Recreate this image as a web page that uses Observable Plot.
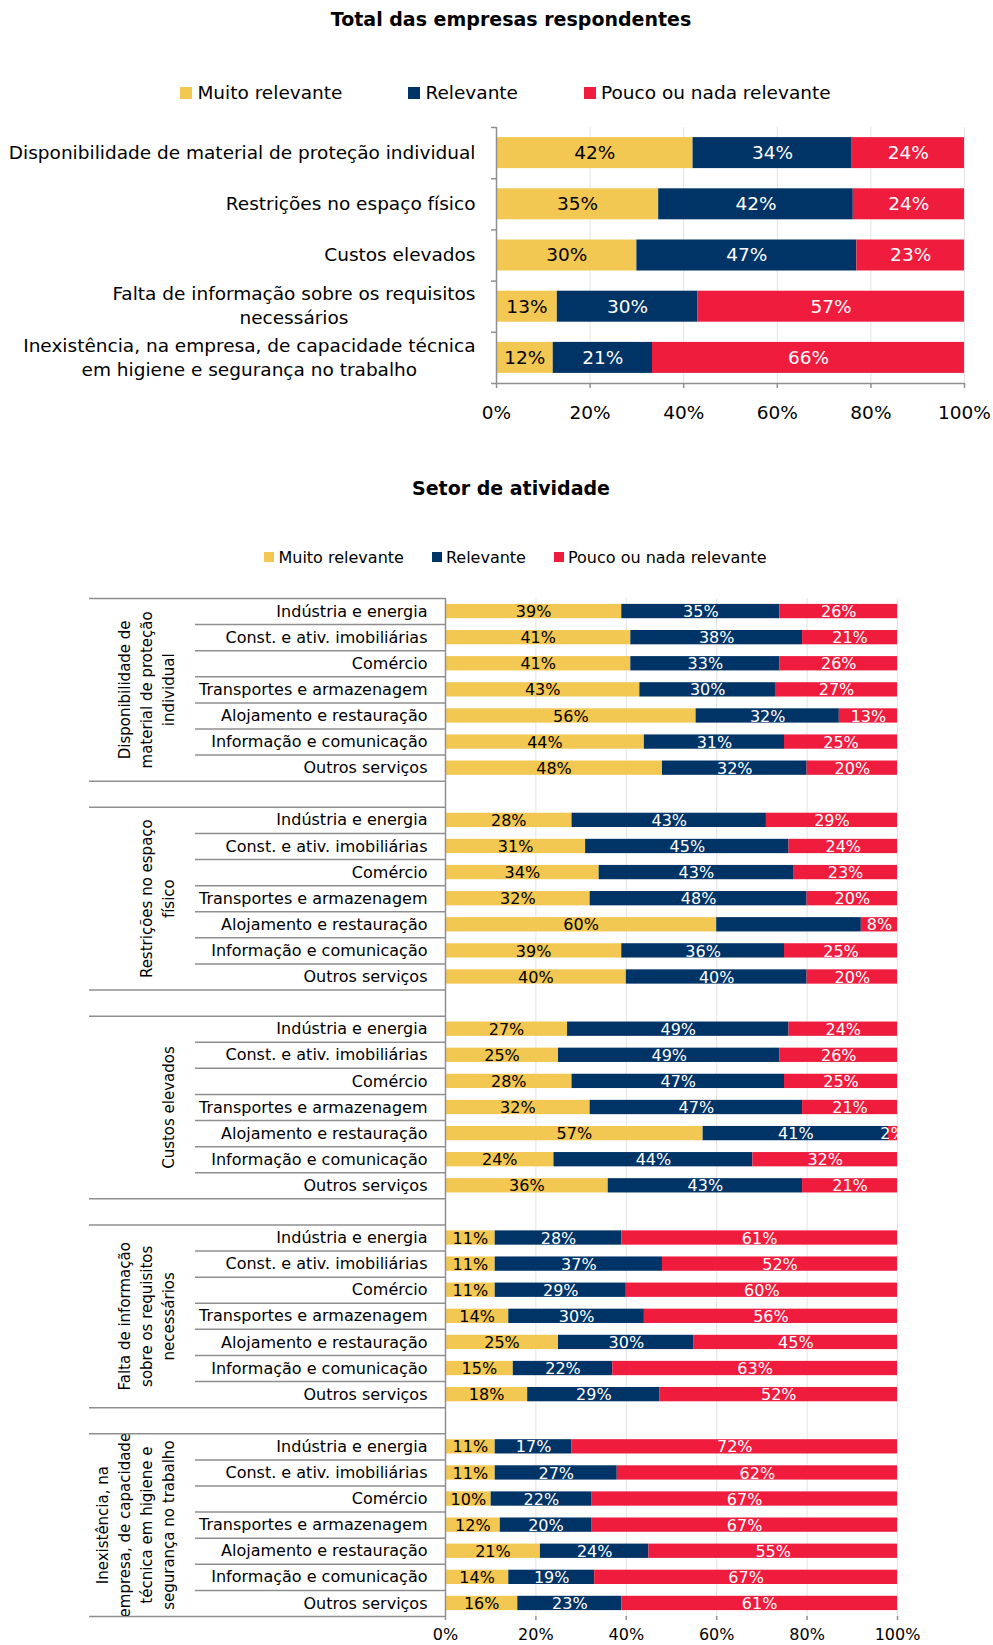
<!DOCTYPE html>
<html>
<head>
<meta charset="utf-8">
<script src="https://cdn.jsdelivr.net/npm/d3@7"></script>
<script src="https://cdn.jsdelivr.net/npm/@observablehq/plot@0.6"></script>
<style>
  html, body { margin: 0; padding: 0; background: #fff; }
  #root { position: relative; width: 993px; height: 1645px; overflow: hidden; font-family: "DejaVu Sans", Verdana, sans-serif; color: #000; }
  .abs { position: absolute; left: 0; width: 993px; }
  .title { text-align: center; font-weight: bold; font-size: 19px; height: 24px; line-height: 24px; box-sizing: border-box; }
  .legend { display: flex; justify-content: center; align-items: center; box-sizing: border-box; }
  .legend .item { display: flex; align-items: center; }
  .legend .sw { display: inline-block; }
</style>
</head>
<body>
<div id="root"></div>
<script>
// ---------------- DATA ----------------
const seriesNames = ["Muito relevante", "Relevante", "Pouco ou nada relevante"];
const seriesColors = ["#F2C752", "#003366", "#EF1C3E"];
const labelColors = ["#000000", "#ffffff", "#ffffff"];

// Top chart: total of responding companies
const totalTitle = "Total das empresas respondentes";
const factorLabelLines = [
  ["Disponibilidade de material de proteção individual"],
  ["Restrições no espaço físico"],
  ["Custos elevados"],
  ["Falta de informação sobre os requisitos", "necessários"],
  ["Inexistência, na empresa, de capacidade técnica", "em higiene e segurança no trabalho"]
];
const totalMuito = [42, 35, 30, 13, 12];
const totalRelevante = [34, 42, 47, 30, 21];
const totalPouco = [24, 24, 23, 57, 66];

// Bottom chart: by sector of activity
const sectorTitle = "Setor de atividade";
const groupLabelLines = [
  ["Disponibilidade de", "material de proteção", "individual"],
  ["Restrições no espaço", "físico"],
  ["Custos elevados"],
  ["Falta de informação", "sobre os requisitos", "necessários"],
  ["Inexistência, na", "empresa, de capacidade", "técnica em higiene e", "segurança no trabalho"]
];
const sectors = [
  "Indústria e energia",
  "Const. e ativ. imobiliárias",
  "Comércio",
  "Transportes e armazenagem",
  "Alojamento e restauração",
  "Informação e comunicação",
  "Outros serviços"
];
const sectorMuito = [
  [39, 41, 41, 43, 56, 44, 48],
  [28, 31, 34, 32, 60, 39, 40],
  [27, 25, 28, 32, 57, 24, 36],
  [11, 11, 11, 14, 25, 15, 18],
  [11, 11, 10, 12, 21, 14, 16]
];
const sectorRelevante = [
  [35, 38, 33, 30, 32, 31, 32],
  [43, 45, 43, 48, 32, 36, 40],
  [49, 49, 47, 47, 41, 44, 43],
  [28, 37, 29, 30, 30, 22, 29],
  [17, 27, 22, 20, 24, 19, 23]
];
const sectorPouco = [
  [26, 21, 26, 27, 13, 25, 20],
  [29, 24, 23, 20, 8, 25, 20],
  [24, 26, 25, 21, 2, 32, 21],
  [61, 52, 60, 56, 45, 63, 52],
  [72, 62, 67, 67, 55, 67, 61]
];
// labels not shown in the original [group, sector, series]
const hiddenLabels = [[1, 4, 1]];

const xTicks = [0, 0.2, 0.4, 0.6, 0.8, 1];

// ---------------- LAYOUT ----------------
const W = 993;
const FONT = '"DejaVu Sans", Verdana, sans-serif';
const GRID = "#e3e3e3";
const AXIS = "#8f8f8f";
const root = document.getElementById("root");

const ctx = document.createElement("canvas").getContext("2d");
function textWidth(str, size) { ctx.font = `${size}px "DejaVu Sans"`; return ctx.measureText(str).width; }

function addDiv(cls, top, html, style = "") {
  const d = document.createElement("div");
  d.className = "abs " + cls;
  d.style.cssText = `top:${top}px;` + style;
  d.innerHTML = html;
  root.appendChild(d);
  return d;
}
function addLegend(top, sw, fs, gap, padLeft) {
  const items = seriesNames.map((n, i) =>
    `<span class="item"><span class="sw" style="width:${sw}px;height:${sw}px;background:${seriesColors[i]};margin-right:${Math.round(sw/3)+1}px"></span><span style="font-size:${fs}px">${n}</span></span>`
  ).join("");
  addDiv("legend", top, items, `gap:${gap}px;padding-left:${padLeft}px;height:${fs*1.5}px;`);
}

function stackRows(a, b, c) {
  const vals = [a, b, c];
  const sum = d3.sum(vals);
  let acc = 0;
  return vals.map((v, s) => { const r = {s, v, x1: acc / sum, x2: (acc + v) / sum}; acc += v; return r; });
}

// ---------- TOP CHART ----------
addDiv("title", 7, totalTitle, "padding-left:29px;");
addLegend(79, 12, 18.5, 66, 18);

{
  const svgTop = 110, height = 320, mt = 17, mb = 47, ml = 496, mr = 29;
  const pw = W - ml - mr;
  const n = factorLabelLines.length;
  const fs = 18.5;
  const bars = [];
  factorLabelLines.forEach((_, i) => {
    stackRows(totalMuito[i], totalRelevante[i], totalPouco[i]).forEach(r => bars.push({...r, i}));
  });
  const labels = factorLabelLines.map((lines, i) => {
    const w = d3.max(lines, l => textWidth(l, fs));
    return {i, text: lines.join("\n"), x: -(21 + w / 2) / pw};
  });
  const chart = Plot.plot({
    width: W, height, marginTop: mt, marginBottom: mb, marginLeft: ml, marginRight: mr,
    style: {fontFamily: FONT, fontSize: fs + "px", color: "#000", background: "transparent", overflow: "visible"},
    x: {domain: [0, 1]},
    y: {domain: [0, n], reverse: true, axis: null},
    color: {type: "identity"},
    marks: [
      Plot.gridX(xTicks.slice(1), {stroke: GRID, strokeOpacity: 1, strokeWidth: 1}),
      Plot.rectX(bars, {x1: "x1", x2: "x2", y1: d => d.i, y2: d => d.i + 1, fill: d => seriesColors[d.s], insetTop: 10.1, insetBottom: 10.1}),
      Plot.text(bars, {x: d => (d.x1 + d.x2) / 2, y: d => d.i + 0.5, text: d => d.v + "%", fill: d => labelColors[d.s], fontSize: fs, dy: 0}),
      Plot.text(labels, {x: "x", y: d => d.i + 0.5, text: "text", textAnchor: "middle", lineHeight: 1.3, fontSize: fs, fill: "#000", dy: -2}),
      Plot.ruleX([0], {stroke: AXIS, strokeWidth: 1.5}),
      Plot.ruleY(d3.range(n + 1), {x1: -5 / pw, x2: d => d === n ? 1 : 0, stroke: AXIS, strokeWidth: 1.5}),
      Plot.axisX(xTicks, {tickFormat: d3.format(".0%"), tickSize: 5, tickPadding: 17, fontSize: fs, stroke: AXIS, strokeWidth: 1.5, fill: "#000"})
    ]
  });
  chart.style.position = "absolute";
  chart.style.left = "0px";
  chart.style.top = svgTop + "px";
  root.appendChild(chart);
}

// ---------- BOTTOM CHART ----------
addDiv("title", 476, sectorTitle, "padding-left:29px;");
addLegend(545, 10, 16, 28, 38);

{
  const svgTop = 580, height = 1065, mt = 18, mb = 29, ml = 445, mr = 96;
  const pw = W - ml - mr;
  const fs = 16;
  const toX = px => (px - ml) / pw;    // pixel column -> x data units
  const nS = sectors.length;
  const groupStart = g => g * (nS + 1);
  const nRows = groupLabelLines.length * (nS + 1) - 1;
  const hidden = new Set(hiddenLabels.map(d => d.join("|")));

  const bars = [], rowLabels = [], groupRules = [], rowRules = [], groupLabels = [];
  groupLabelLines.forEach((lines, g) => {
    const g0 = groupStart(g);
    sectors.forEach((name, k) => {
      const row = g0 + k;
      stackRows(sectorMuito[g][k], sectorRelevante[g][k], sectorPouco[g][k])
        .forEach(r => bars.push({...r, row, show: !hidden.has(`${g}|${k}|${r.s}`)}));
      rowLabels.push({row, name});
      if (k > 0) rowRules.push(row);
    });
    groupRules.push(g0, g0 + nS);
    groupLabels.push({row: g0 + (nS - 1) / 2, text: lines.join("\n")});
  });

  const chart = Plot.plot({
    width: W, height, marginTop: mt, marginBottom: mb, marginLeft: ml, marginRight: mr,
    style: {fontFamily: FONT, fontSize: fs + "px", color: "#000", background: "transparent", overflow: "visible"},
    x: {domain: [0, 1]},
    y: {domain: [0, nRows], reverse: true, axis: null},
    color: {type: "identity"},
    marks: [
      Plot.gridX(xTicks.slice(1), {stroke: GRID, strokeOpacity: 1, strokeWidth: 1}),
      Plot.rectX(bars, {x1: "x1", x2: "x2", y1: "row", y2: d => d.row + 1, fill: d => seriesColors[d.s], insetTop: 5.9, insetBottom: 5.9}),
      Plot.text(bars.filter(d => d.show), {x: d => (d.x1 + d.x2) / 2, y: d => d.row + 0.5, text: d => d.v + "%", fill: d => labelColors[d.s], fontSize: fs, dy: 0.5}),
      Plot.text(rowLabels, {y: d => d.row + 0.5, text: "name", frameAnchor: "left", textAnchor: "end", dx: -18, fontSize: fs, fill: "#000"}),
      Plot.text(groupLabels, {x: toX(173), y: d => d.row + 0.5, text: "text", rotate: -90, lineAnchor: "bottom", textAnchor: "middle", lineHeight: 1.45, fontSize: 15, fill: "#000"}),
      Plot.ruleY(groupRules, {x1: toX(89), x2: 0, stroke: AXIS, strokeWidth: 1.5}),
      Plot.ruleY(rowRules, {x1: toX(195), x2: 0, stroke: AXIS, strokeWidth: 1.5}),
      Plot.ruleX([0], {stroke: AXIS, strokeWidth: 1.5}),
      Plot.axisX(xTicks, {tickFormat: d3.format(".0%"), tickSize: 4, tickPadding: 8, fontSize: fs, stroke: AXIS, strokeWidth: 1.5, fill: "#000"})
    ]
  });
  chart.style.position = "absolute";
  chart.style.left = "0px";
  chart.style.top = svgTop + "px";
  root.appendChild(chart);
}
</script>
</body>
</html>
